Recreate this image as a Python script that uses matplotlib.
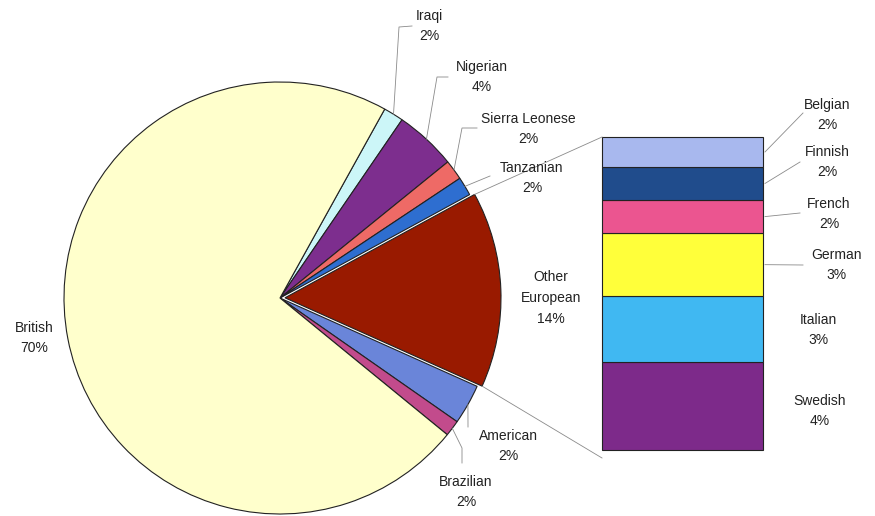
import numpy as np
import matplotlib.pyplot as plt

plt.rcParams['font.family'] = ['Liberation Sans', 'DejaVu Sans']

# pie data (clockwise from the British/Iraqi border)
pie_names = ["Iraqi", "Nigerian", "Sierra Leonese", "Tanzanian",
             "Other\nEuropean", "American", "Brazilian", "British"]
pie_values = [1.5, 4.6, 1.5, 1.4, 14.65, 3.0, 1.2, 72.15]
pie_pct = ["2%", "4%", "2%", "2%", "14%", "2%", "2%", "70%"]
pie_colors = ["#CCF6F8", "#7D2E8E", "#EE6A66", "#2E6ED0",
              "#991A00", "#6A85D9", "#C24B8C", "#FFFFCC"]

# bar of "Other European", top to bottom
bar_names = ["Belgian", "Finnish", "French", "German", "Italian", "Swedish"]
bar_values = [1.4, 1.55, 1.55, 2.95, 3.1, 4.1]
bar_pct = ["2%", "2%", "2%", "3%", "3%", "4%"]
bar_colors = ["#A8B8EE", "#204C8C", "#EB5590", "#FFFF3A", "#40B8F2", "#7D2A8A"]

W, H = 875, 516


def P(x, y):
    # pixel position (y down) -> data coords
    return x, H - y


fig = plt.figure(figsize=(8.75, 5.16), dpi=100)
ax = fig.add_axes([0, 0, 1, 1])

cx, cy = P(280, 298)
R = 216
# explode is in data units here (radius is not 1)
explode = [5 if n.startswith("Other") else 0 for n in pie_names]
wedges, _ = ax.pie(pie_values, colors=pie_colors, startangle=61, counterclock=False,
                   radius=R, center=(cx, cy), explode=explode, frame=True,
                   wedgeprops=dict(edgecolor="#222222", linewidth=0.8))

ax.set_xlim(0, W)
ax.set_ylim(0, H)
ax.set_aspect("equal")
ax.axis("off")

# stacked bar
bx_left, bx_right = 602, 763
b_top, b_bot = 137, 450
scale = (b_bot - b_top) / sum(bar_values)
bottom = H - b_bot
seg_mid = {}
for name, v, c in zip(bar_names[::-1], bar_values[::-1], bar_colors[::-1]):
    ax.bar((bx_left + bx_right) / 2, v * scale, width=bx_right - bx_left, bottom=bottom,
           color=c, edgecolor="#222222", linewidth=0.8)
    seg_mid[name] = bottom + v * scale / 2
    bottom += v * scale

lc = "#8a8a8a"
lw = 0.6


def edge_point(w, frac=0.5):
    t1, t2 = w.theta1, w.theta2
    a = np.deg2rad(t1 + (t2 - t1) * frac)
    x0, y0 = w.center
    return x0 + w.r * np.cos(a), y0 + w.r * np.sin(a)


# series lines from the exploded slice to the bar
other = wedges[pie_names.index("Other\nEuropean")]
x1, y1 = edge_point(other, 1.0)
x2, y2 = edge_point(other, 0.0)
ax.plot([x1, bx_left], [y1, H - b_top], color=lc, lw=lw)
ax.plot([x2, bx_left], [y2, H - b_bot - 8], color=lc, lw=lw)

# pie labels: text centre, leader path (pixel coords)
pie_label_pos = {
    "Iraqi": ((429, 26), [(399, 27), (412, 26)]),
    "Nigerian": ((482, 77), [(437, 77), (448, 77)]),
    "Sierra Leonese": ((528, 129), [(462, 128), (477, 128)]),
    "Tanzanian": ((532, 178), [(490, 176)]),
    "Other\nEuropean": ((551, 298), None),
    "American": ((508, 446), [(468, 427)]),
    "Brazilian": ((466, 492), [(462, 448), (462, 463)]),
    "British": ((34, 338), None),
}
for w, name, pct in zip(wedges, pie_names, pie_pct):
    (tx, ty), path = pie_label_pos[name]
    ax.text(*P(tx, ty), f"{name}\n{pct}", ha="center", va="center",
            fontsize=10, linespacing=1.6, color="#222222")
    if path:
        ex, ey = edge_point(w)
        xs = [ex] + [p[0] for p in path]
        ys = [ey] + [H - p[1] for p in path]
        ax.plot(xs, ys, color=lc, lw=lw)

# bar labels
bar_label_pos = {
    "Belgian": ((827, 115), (803, 113)),
    "Finnish": ((827, 162), (800, 162)),
    "French": ((829, 214), (800, 213)),
    "German": ((836, 265), (803, 265)),
    "Italian": ((818, 330), None),
    "Swedish": ((820, 411), None),
}
for name, pct in zip(bar_names, bar_pct):
    (tx, ty), end = bar_label_pos[name]
    ax.text(*P(tx, ty), f"{name}\n{pct}", ha="center", va="center",
            fontsize=10, linespacing=1.6, color="#222222")
    if end:
        ax.plot([bx_right + 2, end[0]], [seg_mid[name], H - end[1]], color=lc, lw=lw)

fig.savefig("out.png", dpi=100, facecolor="white")
